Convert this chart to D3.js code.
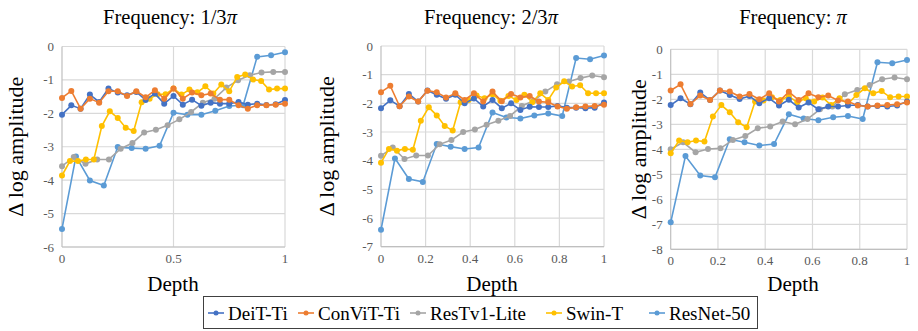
<!DOCTYPE html>
<html>
<head>
<meta charset="utf-8">
<script src="https://d3js.org/d3.v7.min.js"></script>
<style>
  body { margin: 0; background: #fff; }
  svg { display: block; }
  text { font-family: "Liberation Serif", "Times New Roman", serif; }
</style>
</head>
<body>
<svg width="918" height="331"></svg>
<script>
// series names and colours (Excel palette)
var seriesNames = ["DeiT-Ti", "ConViT-Ti", "ResTv1-Lite", "Swin-T", "ResNet-50"];
var seriesColors = ["#4472C4", "#ED7D31", "#A5A5A5", "#FFC000", "#5B9BD5"];

// Frequency 1/3 pi
var deitF1 = [-2.04,-1.76,-1.86,-1.44,-1.66,-1.26,-1.38,-1.46,-1.36,-1.6,-1.41,-1.71,-1.48,-1.74,-1.59,-1.77,-1.68,-1.71,-1.71,-1.66,-1.74,-1.71,-1.75,-1.73,-1.6];
var convitF1 = [-1.54,-1.33,-1.86,-1.56,-1.68,-1.34,-1.34,-1.48,-1.34,-1.52,-1.31,-1.56,-1.26,-1.56,-1.38,-1.46,-1.41,-1.59,-1.59,-1.76,-1.86,-1.76,-1.76,-1.74,-1.71];
var restF1 = [-3.58,-3.31,-3.51,-3.38,-3.38,-3.06,-2.89,-2.57,-2.49,-2.36,-2.18,-1.96,-1.68,-1.56,-1.23,-1.01,-0.86,-0.78,-0.76,-0.76];
var swinF1 = [-3.86,-3.43,-3.43,-3.38,-3.38,-2.38,-1.94,-2.14,-2.43,-2.53,-1.67,-1.56,-1.43,-1.43,-1.26,-1.44,-1.29,-1.37,-1.19,-1.41,-1.14,-1.34,-0.91,-0.84,-0.99,-1.03,-1.29,-1.26,-1.26];
var resnetF1 = [-5.46,-3.29,-4.01,-4.16,-3.01,-3.04,-3.06,-2.97,-1.98,-2.04,-2.04,-1.92,-1.78,-1.76,-0.31,-0.26,-0.17];

// Frequency 2/3 pi
var deitF2 = [-2.17,-1.89,-2.1,-1.67,-1.94,-1.55,-1.7,-1.84,-1.7,-2.0,-1.83,-2.11,-1.88,-2.17,-2.0,-2.23,-2.12,-2.13,-2.13,-2.09,-2.15,-2.15,-2.17,-2.15,-1.97];
var convitF2 = [-1.61,-1.39,-2.1,-1.76,-1.94,-1.56,-1.61,-1.8,-1.65,-1.88,-1.65,-1.94,-1.59,-1.93,-1.67,-1.8,-1.74,-1.94,-1.96,-2.11,-2.19,-2.14,-2.11,-2.09,-2.05];
var restF2 = [-3.83,-3.54,-3.94,-3.82,-3.82,-3.43,-3.28,-3.0,-2.91,-2.75,-2.61,-2.44,-2.09,-1.91,-1.59,-1.33,-1.24,-1.12,-1.03,-1.09];
var swinF2 = [-4.07,-3.59,-3.65,-3.59,-3.62,-2.61,-2.14,-2.42,-2.79,-2.95,-1.96,-1.88,-1.73,-1.82,-1.68,-1.91,-1.74,-1.88,-1.7,-1.96,-1.65,-1.88,-1.45,-1.23,-1.41,-1.37,-1.65,-1.65,-1.65];
var resnetF2 = [-6.41,-3.92,-4.64,-4.74,-3.42,-3.51,-3.59,-3.54,-2.32,-2.49,-2.53,-2.42,-2.35,-2.44,-0.42,-0.46,-0.33];

// Frequency pi
var deitF3 = [-2.23,-1.96,-2.2,-1.73,-2.03,-1.65,-1.83,-1.99,-1.87,-2.16,-1.96,-2.25,-2.02,-2.33,-2.13,-2.4,-2.29,-2.29,-2.25,-2.23,-2.29,-2.27,-2.29,-2.25,-2.09];
var convitF3 = [-1.65,-1.4,-2.19,-1.85,-2.03,-1.65,-1.69,-1.89,-1.79,-2.0,-1.76,-2.09,-1.7,-2.03,-1.76,-1.92,-1.85,-2.05,-2.09,-2.25,-2.29,-2.25,-2.23,-2.2,-2.13];
var restF3 = [-4.0,-3.72,-4.12,-3.99,-3.96,-3.63,-3.47,-3.16,-3.09,-2.89,-3.0,-2.79,-2.4,-2.29,-1.8,-1.63,-1.43,-1.2,-1.13,-1.2];
var swinF3 = [-4.16,-3.65,-3.72,-3.65,-3.69,-2.69,-2.23,-2.52,-2.92,-3.12,-2.09,-2.05,-1.92,-2.03,-1.88,-2.12,-1.96,-2.09,-1.93,-2.23,-1.96,-2.19,-1.83,-1.56,-1.76,-1.67,-1.92,-1.89,-1.89];
var resnetF3 = [-6.92,-4.27,-5.05,-5.12,-3.6,-3.72,-3.85,-3.79,-2.6,-2.77,-2.84,-2.72,-2.67,-2.79,-0.52,-0.56,-0.43];

// panel titles and axis ticks
var titles = ["Frequency: 1/3", "Frequency: 2/3", "Frequency: "];
var xTicks1 = [0, 0.5, 1];
var xTicks23 = [0, 0.2, 0.4, 0.6, 0.8, 1];
var yMins = [-6, -7, -8];

var panels = [
  { title: titles[0], data: [deitF1, convitF1, restF1, swinF1, resnetF1], xTicks: xTicks1, yMin: yMins[0],
    x0: 62, x1: 285, y0: 46.5, y1: 247, titleX: 170, ylabX: 23, depthX: 173 },
  { title: titles[1], data: [deitF2, convitF2, restF2, swinF2, resnetF2], xTicks: xTicks23, yMin: yMins[1],
    x0: 381, x1: 604, y0: 46, y1: 246.7, titleX: 491, ylabX: 334, depthX: 492 },
  { title: titles[2], data: [deitF3, convitF3, restF3, swinF3, resnetF3], xTicks: xTicks23, yMin: yMins[2],
    x0: 670.7, x1: 907, y0: 49.3, y1: 249.3, titleX: 793, ylabX: 646, depthX: 793 }
];

var svg = d3.select("svg");

function fmt(v) {
  return String(v); // keep plain hyphen minus like the original
}

panels.forEach(function (p) {
  var x = d3.scaleLinear().domain([0, 1]).range([p.x0, p.x1]);
  var y = d3.scaleLinear().domain([p.yMin, 0]).range([p.y1, p.y0]);
  var g = svg.append("g");

  // horizontal grid
  g.selectAll(".hgrid")
    .data(d3.range(p.yMin, 1))
    .enter().append("line")
    .attr("x1", p.x0).attr("x2", p.x1)
    .attr("y1", function (d) { return y(d); })
    .attr("y2", function (d) { return y(d); })
    .attr("stroke", "#d9d9d9").attr("stroke-width", 1.2);

  // vertical grid
  g.selectAll(".vgrid")
    .data(p.xTicks.filter(function (d) { return d > 0; }))
    .enter().append("line")
    .attr("y1", p.y0).attr("y2", p.y1)
    .attr("x1", function (d) { return x(d); })
    .attr("x2", function (d) { return x(d); })
    .attr("stroke", "#d9d9d9").attr("stroke-width", 1.2);

  // axis lines
  g.append("line").attr("x1", p.x0).attr("x2", p.x0).attr("y1", p.y0).attr("y2", p.y1)
    .attr("stroke", "#bfbfbf").attr("stroke-width", 1.2);
  g.append("line").attr("x1", p.x0).attr("x2", p.x1).attr("y1", p.y1).attr("y2", p.y1)
    .attr("stroke", "#bfbfbf").attr("stroke-width", 1.2);

  // tick labels
  g.selectAll(".ylab")
    .data(d3.range(p.yMin, 1))
    .enter().append("text")
    .attr("x", p.x0 - 8)
    .attr("y", function (d) { return y(d) + 4.5; })
    .attr("text-anchor", "end")
    .attr("font-size", 13)
    .attr("fill", "#595959")
    .text(fmt);

  g.selectAll(".xlab")
    .data(p.xTicks)
    .enter().append("text")
    .attr("x", function (d) { return x(d); })
    .attr("y", p.y1 + 16)
    .attr("text-anchor", "middle")
    .attr("font-size", 13)
    .attr("fill", "#595959")
    .text(fmt);

  // series
  var line = d3.line()
    .x(function (d) { return x(d[0]); })
    .y(function (d) { return y(d[1]); });

  // draw in reverse so DeiT/ConViT sit on top like the original
  [4, 2, 3, 0, 1].forEach(function (si) {
    var vals = p.data[si];
    var n = vals.length - 1;
    var pts = vals.map(function (v, i) { return [i / n, v]; });
    g.append("path")
      .datum(pts)
      .attr("d", line)
      .attr("fill", "none")
      .attr("stroke", seriesColors[si])
      .attr("stroke-width", 1.6);
    g.selectAll(".pt" + si)
      .data(pts)
      .enter().append("circle")
      .attr("cx", function (d) { return x(d[0]); })
      .attr("cy", function (d) { return y(d[1]); })
      .attr("r", 3)
      .attr("fill", seriesColors[si]);
  });

  // title
  var t = svg.append("text")
    .attr("x", p.titleX)
    .attr("y", 24)
    .attr("text-anchor", "middle")
    .attr("font-size", 20.5)
    .attr("fill", "#000");
  t.append("tspan").text(p.title);
  t.append("tspan").attr("font-style", "italic").text("\u03C0");

  // y label
  svg.append("text")
    .attr("transform", "translate(" + p.ylabX + "," + ((p.y0 + p.y1) / 2) + ") rotate(-90)")
    .attr("text-anchor", "middle")
    .attr("font-size", 22)
    .attr("fill", "#000")
    .text("\u0394 log amplitude");

  // x label
  svg.append("text")
    .attr("x", p.depthX)
    .attr("y", 291)
    .attr("text-anchor", "middle")
    .attr("font-size", 21)
    .attr("fill", "#000")
    .text("Depth");
});

// legend
var legendX = [208, 298, 410, 546, 649];
var lg = svg.append("g");
lg.append("rect")
  .attr("x", 203.5).attr("y", 296.5)
  .attr("width", 554).attr("height", 32)
  .attr("fill", "#fff")
  .attr("stroke", "#404040").attr("stroke-width", 1);

seriesNames.forEach(function (name, i) {
  var lx = legendX[i];
  lg.append("line")
    .attr("x1", lx).attr("x2", lx + 16)
    .attr("y1", 313).attr("y2", 313)
    .attr("stroke", seriesColors[i]).attr("stroke-width", 1.6);
  lg.append("circle")
    .attr("cx", lx + 8).attr("cy", 313).attr("r", 2.5)
    .attr("fill", seriesColors[i]);
  lg.append("text")
    .attr("x", lx + 20)
    .attr("y", 320)
    .attr("font-size", 19)
    .attr("fill", "#000")
    .text(name);
});
</script>
</body>
</html>
